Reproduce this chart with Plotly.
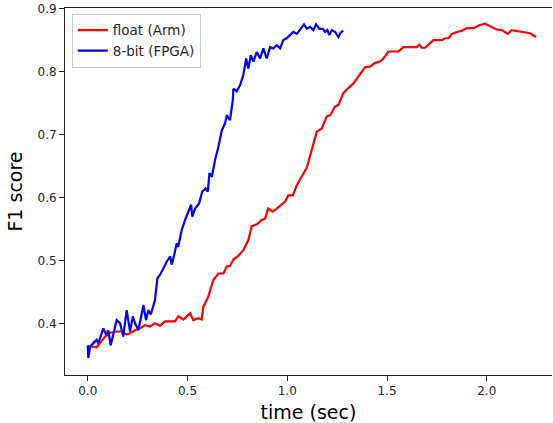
"""F1 score vs time: float (Arm) vs 8-bit (FPGA)."""
import plotly.graph_objects as go

# float (Arm) curve
float_t = [0.000, 0.045, 0.062, 0.087, 0.112, 0.145, 0.170, 0.195, 0.212, 0.237,
           0.262, 0.287, 0.312, 0.337, 0.362, 0.387, 0.438, 0.454, 0.479, 0.513,
           0.529, 0.554, 0.571, 0.579, 0.604, 0.630, 0.655, 0.680, 0.697, 0.713,
           0.730, 0.755, 0.780, 0.805, 0.822, 0.847, 0.872, 0.889, 0.905, 0.927,
           0.947, 0.972, 0.989, 1.006, 1.028, 1.048, 1.073, 1.098, 1.106, 1.123,
           1.148, 1.173, 1.198, 1.215, 1.240, 1.256, 1.281, 1.306, 1.331, 1.356,
           1.390, 1.415, 1.440, 1.465, 1.482, 1.507, 1.557, 1.582, 1.649, 1.662,
           1.674, 1.691, 1.732, 1.774, 1.791, 1.808, 1.825, 1.850, 1.875, 1.900,
           1.933, 1.966, 1.991, 2.016, 2.050, 2.075, 2.105, 2.125, 2.158, 2.183,
           2.217, 2.247]
float_f1 = [0.365, 0.363, 0.370, 0.380, 0.386, 0.388, 0.388, 0.383, 0.385, 0.390,
            0.393, 0.398, 0.396, 0.401, 0.397, 0.404, 0.404, 0.412, 0.407, 0.417,
            0.406, 0.409, 0.407, 0.427, 0.443, 0.470, 0.480, 0.480, 0.491, 0.492,
            0.502, 0.508, 0.517, 0.533, 0.555, 0.558, 0.565, 0.567, 0.583, 0.578,
            0.583, 0.589, 0.594, 0.604, 0.604, 0.620, 0.634, 0.648, 0.657, 0.678,
            0.705, 0.710, 0.729, 0.731, 0.745, 0.747, 0.766, 0.774, 0.781, 0.792,
            0.807, 0.808, 0.814, 0.816, 0.821, 0.832, 0.832, 0.839, 0.839, 0.843,
            0.838, 0.838, 0.850, 0.850, 0.853, 0.853, 0.860, 0.863, 0.865, 0.869,
            0.869, 0.874, 0.876, 0.872, 0.867, 0.866, 0.860, 0.866, 0.864, 0.862,
            0.861, 0.855]

# 8-bit (FPGA) curve
fpga_t = [0.000, 0.003, 0.012, 0.028, 0.045, 0.053, 0.070, 0.078, 0.092, 0.103,
          0.115, 0.128, 0.145, 0.162, 0.178, 0.195, 0.212, 0.226, 0.237, 0.254,
          0.271, 0.279, 0.292, 0.304, 0.316, 0.326, 0.337, 0.349, 0.362, 0.379,
          0.396, 0.413, 0.421, 0.433, 0.446, 0.453, 0.471, 0.488, 0.504, 0.518,
          0.524, 0.538, 0.558, 0.574, 0.591, 0.602, 0.610, 0.622, 0.638, 0.655,
          0.672, 0.688, 0.697, 0.713, 0.727, 0.730, 0.747, 0.764, 0.780, 0.794,
          0.805, 0.817, 0.830, 0.847, 0.864, 0.880, 0.897, 0.914, 0.930, 0.947,
          0.964, 0.980, 0.997, 1.014, 1.030, 1.048, 1.064, 1.084, 1.098, 1.114,
          1.131, 1.144, 1.161, 1.178, 1.189, 1.201, 1.211, 1.223, 1.240, 1.256,
          1.268, 1.281]
fpga_f1 = [0.366, 0.346, 0.364, 0.369, 0.375, 0.369, 0.385, 0.393, 0.383, 0.390,
           0.366, 0.383, 0.406, 0.401, 0.380, 0.422, 0.388, 0.412, 0.401, 0.390,
           0.419, 0.430, 0.406, 0.422, 0.415, 0.427, 0.438, 0.472, 0.478, 0.488,
           0.499, 0.507, 0.494, 0.509, 0.528, 0.522, 0.549, 0.565, 0.578, 0.589,
           0.570, 0.583, 0.591, 0.610, 0.615, 0.610, 0.639, 0.633, 0.660, 0.681,
           0.707, 0.718, 0.731, 0.723, 0.755, 0.773, 0.769, 0.779, 0.795, 0.821,
           0.805, 0.826, 0.816, 0.831, 0.821, 0.837, 0.821, 0.839, 0.837, 0.842,
           0.837, 0.850, 0.853, 0.858, 0.863, 0.860, 0.866, 0.875, 0.868, 0.871,
           0.866, 0.875, 0.868, 0.868, 0.863, 0.866, 0.858, 0.866, 0.863, 0.855,
           0.862, 0.865]

x_ticks = [0.0, 0.5, 1.0, 1.5, 2.0]
y_ticks = [0.4, 0.5, 0.6, 0.7, 0.8, 0.9]

FONT = "DejaVu Sans"

fig = go.Figure()
fig.add_trace(go.Scatter(x=float_t, y=float_f1, mode="lines", name="float (Arm)",
                         line=dict(color="#ff0000", width=2.2)))
fig.add_trace(go.Scatter(x=fpga_t, y=fpga_f1, mode="lines", name="8-bit (FPGA)",
                         line=dict(color="#0000ff", width=2.2)))

fig.update_layout(
    width=553, height=423,
    margin=dict(l=65, r=1, t=8, b=48, autoexpand=False),
    plot_bgcolor="white", paper_bgcolor="white",
    font=dict(family=FONT, color="#262626", size=12),
    showlegend=True,
    legend=dict(x=0.014, y=0.984, xanchor="left", yanchor="top",
                bgcolor="rgba(255,255,255,0.8)", bordercolor="#cccccc", borderwidth=1,
                font=dict(family=FONT, size=13.5, color="#262626"),
                tracegroupgap=0),
)
fig.update_xaxes(
    range=[-0.114, 2.327], tickvals=x_ticks, tickformat=".1f",
    showgrid=False, zeroline=False, automargin=False,
    showline=True, linecolor="#222222", linewidth=1, mirror=True,
    ticks="outside", ticklen=5, tickcolor="#222222",
    tickfont=dict(size=12),
    title=dict(text="time (sec)", font=dict(size=19, color="#000000"), standoff=9),
)
fig.update_yaxes(
    range=[0.319, 0.901], tickvals=y_ticks, tickformat=".1f",
    showgrid=False, zeroline=False, automargin=False,
    showline=True, linecolor="#222222", linewidth=1,
    ticks="outside", ticklen=5, tickcolor="#222222",
    tickfont=dict(size=12),
    title=dict(text="F1 score", font=dict(size=19, color="#000000"), standoff=9),
)

# drop the browser's default 8px body margin so the figure sits at the page corner
fig.write_html("out.html", config={"displayModeBar": False},
               post_script="document.body.style.margin='0';")
